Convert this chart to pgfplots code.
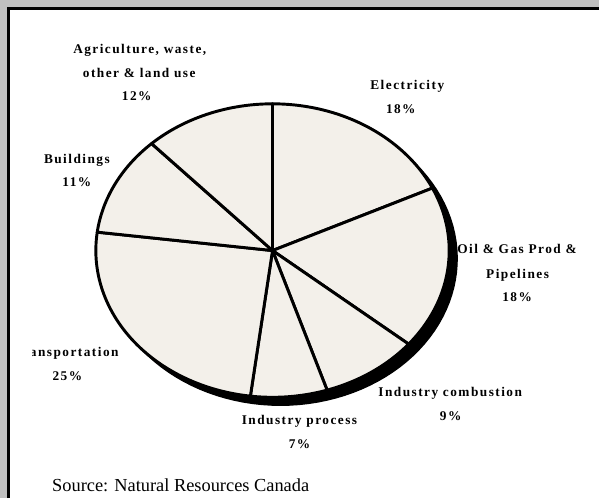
\documentclass[border=0pt]{standalone}
\usepackage{fontspec}
\setmainfont{Liberation Serif}
\newfontface\lblfont[LetterSpace=11]{Liberation Serif Bold}
\usepackage{pgfplots}
\pgfplotsset{compat=1.18}
\definecolor{bgGray}{RGB}{192,192,192}
\definecolor{pieFill}{RGB}{243,240,234}
% pie shares in %, clockwise from 12 o'clock
% Electricity 18, Oil & Gas 18, Industry combustion 9, Industry process 7,
% Transportation 25, Buildings 11, Agriculture etc. 12
\newcommand{\cx}{273}
\newcommand{\cy}{251}
\newcommand{\rx}{177}
\newcommand{\ry}{147}
\newcommand{\slice}[2]{%
  \addplot[fill=pieFill, draw=black, line width=2.2pt, line join=round,
    domain=#1:#2, samples=60, variable=\t]
    ({\cx+\rx*cos(90-3.6*\t)}, {\cy-\ry*sin(90-3.6*\t)}) -- (axis cs:\cx,\cy) -- cycle;}
\newcommand{\lab}[3]{\node[font=\lblfont\fontsize{10}{11}\selectfont, anchor=base, inner sep=0pt] at (axis cs:#1,#2) {#3};}
\begin{document}
\begin{tikzpicture}
\begin{axis}[
  width=450pt, height=374.25pt, scale only axis,
  xmin=0, xmax=600, ymin=0, ymax=499, y dir=reverse,
  hide axis, clip=false]
  % background panel
  \fill[bgGray] (axis cs:0,0) rectangle (axis cs:600,499);
  \fill[white] (axis cs:8.5,8.5) rectangle (axis cs:600,499);
  \draw[black, line width=1.6pt] (axis cs:8.5,499) -- (axis cs:8.5,8.5) -- (axis cs:600,8.5);
  % shadow
  \addplot[fill=black, draw=black, line width=1pt, domain=0:100, samples=120, variable=\t]
    ({\cx+8+\rx*cos(90-3.6*\t)}, {\cy+8+\ry*sin(90-3.6*\t)}) -- cycle;
  % slices
  \slice{0}{18}
  \slice{18}{36}
  \slice{36}{45}
  \slice{45}{52}
  \slice{52}{77}
  \slice{77}{88}
  \slice{88}{100}
  % labels
  \lab{140}{54}{Agriculture, waste,}
  \lab{139.5}{77.3}{other \& land use}
  \lab{137}{100.7}{12\%}
  \lab{408}{90}{Electricity}
  \lab{401.5}{113.3}{18\%}
  \lab{77}{164}{Buildings}
  \lab{77}{186.7}{11\%}
  \lab{518}{254}{Oil \& Gas Prod \&}
  \lab{518.5}{279}{Pipelines}
  \lab{518}{302}{18\%}
  \lab{451}{397}{Industry combustion}
  \lab{451.5}{421}{9\%}
  \lab{300}{425}{Industry process}
  \lab{300}{449}{7\%}
  \begin{scope}
    \clip (axis cs:33,335) rectangle (axis cs:200,365);
    \lab{66}{356.7}{Transportation}
  \end{scope}
  \lab{67.5}{380.7}{25\%}
  \node[font=\fontsize{13.8}{15}\selectfont, anchor=base west, inner sep=0pt] at (axis cs:52,492.5) {Source: Natural Resources Canada};
\end{axis}
\end{tikzpicture}
\end{document}
